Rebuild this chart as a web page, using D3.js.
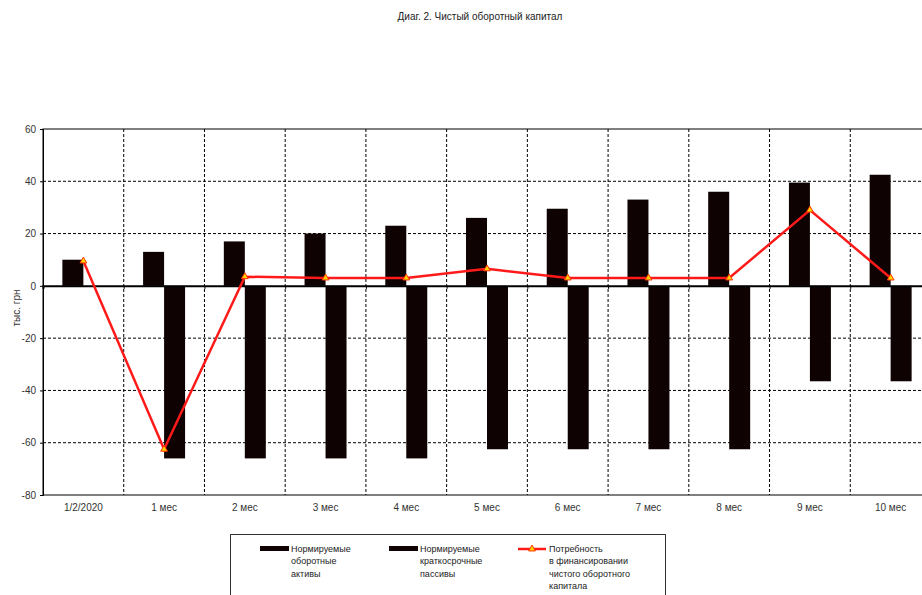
<!DOCTYPE html>
<html>
<head>
<meta charset="utf-8">
<script src="https://cdn.jsdelivr.net/npm/d3@7"></script>
<style>
  body { margin: 0; background: #fff; }
  svg { display: block; font-family: "Liberation Sans", Arial, sans-serif; }
</style>
</head>
<body>
<svg id="chart"></svg>
<script>
// categories and series
const categories = ['1/2/2020', '1 мес', '2 мес', '3 мес', '4 мес', '5 мес', '6 мес', '7 мес', '8 мес', '9 мес', '10 мес'];
const assets = [10, 13, 17, 20, 23, 26, 29.5, 33, 36, 39.5, 42.5];
const liabilities = [0, -66, -66, -66, -66, -62.5, -62.5, -62.5, -62.5, -36.5, -36.5];
const need = [9.5, -62.5, 3.5, 3, 3, 6.5, 3, 3, 3, 29, 3];
const yTicks = [60, 40, 20, 0, -20, -40, -60, -80];
const legendItems = [
    {type: 'bar', lines: ['Нормируемые', 'оборотные', 'активы']},
    {type: 'bar', lines: ['Нормируемые', 'краткосрочные', 'пассивы']},
    {type: 'line', lines: ['Потребность', 'в финансировании', 'чистого оборотного', 'капитала']}
];

const W = 922, H = 595;
const plot = {l: 43, t: 129, w: 888, h: 366};
const barColor = '#0e0202';

const svg = d3.select('svg#chart')
    .attr('width', W)
    .attr('height', H);

svg.append('text')
    .attr('x', 480)
    .attr('y', 20)
    .attr('text-anchor', 'middle')
    .attr('font-size', 10)
    .attr('fill', '#222')
    .text('Диаг. 2. Чистый оборотный капитал');

const g = svg.append('g')
    .attr('transform', `translate(${plot.l}, ${plot.t})`);

const x = d3.scaleBand().domain(categories).range([0, plot.w]);
const y = d3.scaleLinear().domain([-80, 60]).range([plot.h, 0]);
const bw = x.bandwidth() * 0.26;

// horizontal grid
g.append('g')
    .selectAll('line')
    .data(yTicks.filter(d => d !== 0 && d !== 60 && d !== -80))
    .join('line')
    .attr('x1', 0).attr('x2', plot.w)
    .attr('y1', d => y(d)).attr('y2', d => y(d))
    .attr('stroke', '#000')
    .attr('stroke-dasharray', '3,2');

// vertical grid at category boundaries
g.append('g')
    .selectAll('line')
    .data(categories.slice(1))
    .join('line')
    .attr('x1', d => x(d)).attr('x2', d => x(d))
    .attr('y1', 0).attr('y2', plot.h)
    .attr('stroke', '#000')
    .attr('stroke-dasharray', '3,2');

// plot frame
g.append('rect')
    .attr('width', plot.w)
    .attr('height', plot.h)
    .attr('fill', 'none')
    .attr('stroke', '#000');

// bars
g.append('g')
    .selectAll('rect')
    .data(assets)
    .join('rect')
    .attr('x', (d, i) => x(categories[i]) + x.bandwidth() / 2 - bw)
    .attr('y', d => y(Math.max(0, d)))
    .attr('width', bw)
    .attr('height', d => Math.abs(y(d) - y(0)))
    .attr('fill', barColor);

g.append('g')
    .selectAll('rect')
    .data(liabilities)
    .join('rect')
    .attr('x', (d, i) => x(categories[i]) + x.bandwidth() / 2)
    .attr('y', d => y(Math.max(0, d)))
    .attr('width', bw)
    .attr('height', d => Math.abs(y(d) - y(0)))
    .attr('fill', barColor);

// y axis
const yAxis = g.append('g')
    .call(d3.axisLeft(y).tickValues(yTicks).tickSize(3).tickPadding(4).tickFormat(d => String(d)));
yAxis.select('.domain').attr('stroke', '#000');
yAxis.selectAll('text').attr('font-size', 10).attr('fill', '#333')
    .attr('font-family', '"Liberation Sans", Arial, sans-serif');

// zero line with small ticks below
const zeroAxis = g.append('g')
    .attr('transform', `translate(0, ${y(0)})`)
    .call(d3.axisBottom(d3.scaleLinear().domain([0, categories.length]).range([0, plot.w]))
        .tickValues(d3.range(1, categories.length)).tickSize(3).tickFormat(''));
zeroAxis.select('.domain').attr('stroke', '#000').attr('stroke-width', 2);

// x labels
g.append('g')
    .attr('transform', `translate(0, ${plot.h})`)
    .call(d3.axisBottom(x).tickSize(0).tickPadding(9))
    .call(a => a.select('.domain').remove())
    .selectAll('text')
    .attr('font-size', 10)
    .attr('fill', '#333')
    .attr('font-family', '"Liberation Sans", Arial, sans-serif');

// y axis title
svg.append('text')
    .attr('transform', 'translate(20, 308) rotate(-90)')
    .attr('text-anchor', 'middle')
    .attr('font-size', 10)
    .attr('fill', '#333')
    .text('тыс. грн');

// need line
const line = d3.line()
    .x((d, i) => x(categories[i]) + x.bandwidth() / 2)
    .y(d => y(d));

g.append('path')
    .datum(need)
    .attr('d', line)
    .attr('fill', 'none')
    .attr('stroke', '#ff1a1a')
    .attr('stroke-width', 2.5);

const tri = d3.symbol().type(d3.symbolTriangle).size(20);
g.append('g')
    .selectAll('path')
    .data(need)
    .join('path')
    .attr('d', tri)
    .attr('transform', (d, i) => `translate(${x(categories[i]) + x.bandwidth() / 2}, ${y(d)})`)
    .attr('fill', '#ffd400')
    .attr('stroke', '#ff3300')
    .attr('stroke-width', 1);

// legend
const lg = svg.append('g');
lg.append('rect')
    .attr('x', 230.5).attr('y', 534.5)
    .attr('width', 435).attr('height', 80)
    .attr('fill', '#fff')
    .attr('stroke', '#333');

const legendX = [260, 389, 518];
legendItems.forEach((item, i) => {
    const gi = lg.append('g').attr('transform', `translate(${legendX[i]}, 549)`);
    if (item.type === 'bar') {
        gi.append('rect')
            .attr('x', 0).attr('y', -3)
            .attr('width', 29).attr('height', 5)
            .attr('fill', barColor);
    } else {
        gi.append('line')
            .attr('x1', 0).attr('x2', 28)
            .attr('stroke', '#ff1a1a').attr('stroke-width', 2.5);
        gi.append('path')
            .attr('d', tri)
            .attr('transform', 'translate(14, 0)')
            .attr('fill', '#ffd400')
            .attr('stroke', '#ff3300');
    }
    gi.append('text')
        .attr('x', 31)
        .attr('y', 3)
        .attr('font-size', 9)
        .attr('fill', '#222')
        .selectAll('tspan')
        .data(item.lines)
        .join('tspan')
        .attr('x', 31)
        .attr('dy', (d, j) => j === 0 ? 0 : 12.3)
        .text(d => d);
});
</script>
</body>
</html>
